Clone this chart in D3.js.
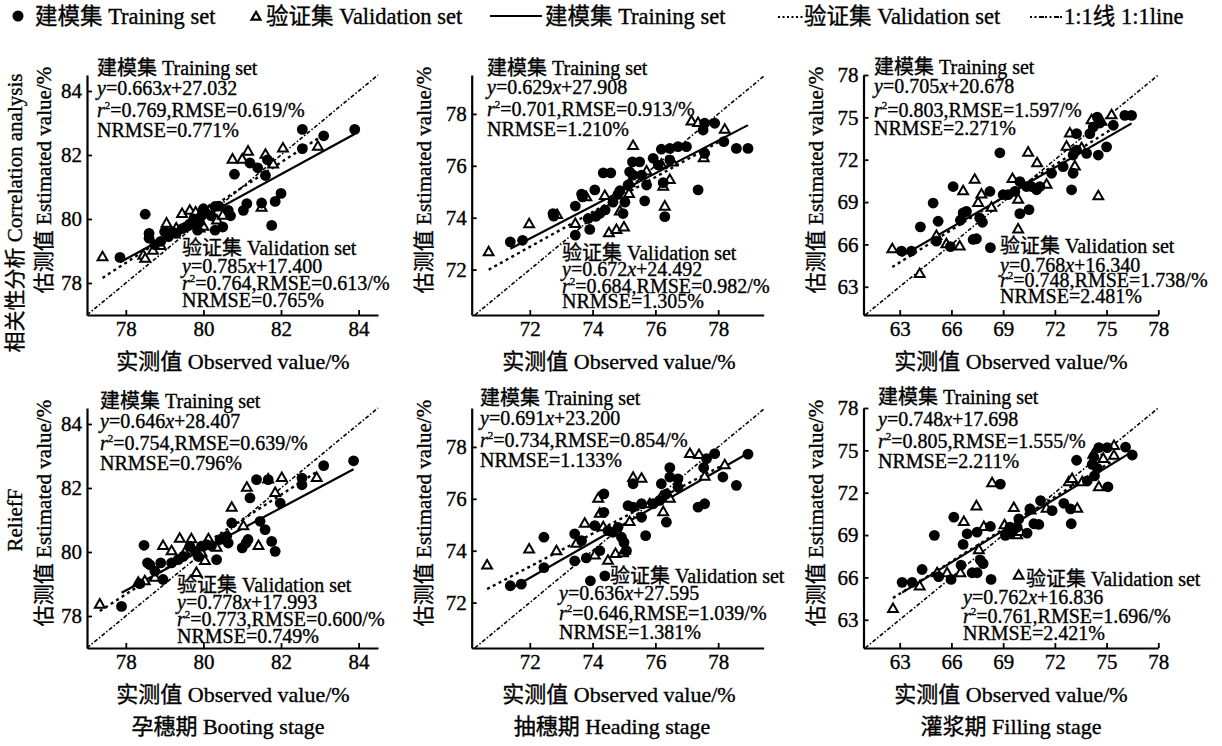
<!DOCTYPE html>
<html>
<head>
<meta charset="utf-8">
<script src="https://cdn.jsdelivr.net/npm/d3@7"></script>
<style>
  body { margin: 0; background: #fff; }
  text { font-family: "Liberation Serif", "Times New Roman", "Noto Sans CJK SC", serif; fill: #000;
         stroke: #000; stroke-width: 0.35px; }
</style>
</head>
<body>
<div id="chart"></div>
<script>
// ---- data ----
// booting stage, correlation analysis
var bootCorrTrain = [[77.85,78.8],[78.5,80.15],[78.6,79.55],[78.6,79.4],[78.75,79.2],[78.9,79.3],[79.0,79.6],[79.1,79.45],[79.2,79.6],[79.3,79.55],[79.45,79.7],[79.55,79.75],[79.65,79.85],[79.75,80.0],[79.85,79.65],[79.9,79.9],[79.95,80.1],[80.0,80.32],[80.05,80.2],[80.2,80.1],[80.3,79.65],[80.3,80.39],[80.4,80.4],[80.5,79.75],[80.64,80.27],[80.7,80.1],[80.8,81.4],[81.03,80.27],[81.12,80.48],[81.2,81.75],[81.4,81.6],[81.5,80.5],[81.6,81.36],[81.65,81.85],[81.76,79.8],[81.85,80.55],[82.0,80.8],[82.55,82.8],[82.55,82.2],[83.1,82.6],[83.9,82.8]];
var bootCorrValid = [[77.4,78.8],[78.45,78.85],[78.5,78.75],[78.7,79.0],[78.9,79.15],[79.05,79.85],[79.3,79.7],[79.45,80.15],[79.65,80.25],[79.7,79.8],[79.8,80.2],[79.9,79.7],[80.0,79.75],[80.15,80.25],[80.35,79.95],[80.5,80.1],[80.75,81.85],[81.0,81.85],[81.15,82.1],[81.5,80.35],[81.6,82.0],[81.8,81.7],[82.05,82.2],[82.95,82.25]];

// heading stage, correlation analysis
var headCorrTrain = [[71.38,73.07],[71.77,73.13],[72.74,74.16],[72.76,74.06],[73.45,74.45],[73.45,73.33],[73.65,74.91],[73.68,74.8],[73.86,73.97],[73.91,73.55],[74.07,75.07],[74.34,75.73],[74.58,75.73],[74.1,74.05],[74.23,74.16],[74.4,74.3],[74.65,74.6],[74.81,74.9],[74.87,75.04],[74.97,74.16],[75.03,74.6],[75.13,75.26],[75.18,75.77],[75.27,76.15],[75.29,75.64],[75.5,76.15],[75.56,75.64],[75.66,74.65],[75.72,75.26],[75.93,76.29],[76.09,76.03],[76.19,76.64],[76.25,75.35],[76.3,74.04],[76.46,76.67],[76.46,76.22],[76.72,76.74],[76.99,76.74],[77.36,75.07],[77.52,77.38],[77.57,77.64],[77.57,76.48],[77.89,77.64],[78.18,76.93],[78.58,76.67],[78.95,76.67]];
var headCorrValid = [[70.69,72.66],[71.98,73.74],[72.87,74.1],[73.45,73.75],[73.8,74.78],[74.39,74.83],[74.52,73.39],[74.76,73.52],[75.0,73.62],[74.87,74.23],[75.16,74.91],[75.18,75.32],[75.29,76.76],[75.72,75.77],[76.19,76.03],[76.25,75.19],[76.3,74.42],[76.46,75.45],[76.54,76.12],[77.15,77.7],[77.36,77.64],[77.54,76.29],[78.21,77.38]];

// filling stage, correlation analysis
var fillCorrTrain = [[63.1,65.53],[63.68,65.53],[64.2,67.24],[64.94,68.93],[65.23,67.64],[65.13,66.23],[65.94,65.84],[66.1,70.1],[66.52,67.71],[66.68,68.23],[66.87,68.34],[67.26,66.35],[67.45,66.4],[67.64,67.87],[67.8,67.57],[68.23,69.75],[68.26,65.77],[68.81,72.49],[69.0,69.52],[69.29,69.52],[69.68,69.75],[69.97,70.45],[69.97,68.18],[70.35,70.1],[70.5,68.46],[70.64,70.1],[70.94,69.87],[71.13,70.1],[71.81,71.04],[72.48,71.51],[72.97,69.87],[73.06,71.04],[73.06,72.33],[73.26,72.68],[73.26,73.85],[73.84,72.45],[74.03,73.85],[74.23,74.32],[74.46,75.02],[74.52,72.33],[74.61,74.6],[75.0,72.91],[75.39,74.44],[76.06,75.14],[76.45,75.14]];
var fillCorrValid = [[62.57,65.65],[64.16,63.89],[65.13,66.59],[65.71,66.0],[66.48,65.84],[66.68,69.75],[67.35,70.57],[67.55,68.93],[67.74,69.52],[68.32,68.58],[69.54,70.62],[69.87,69.16],[69.87,67.05],[70.45,72.49],[70.97,71.74],[71.52,70.22],[72.68,72.91],[72.87,73.85],[73.16,71.51],[73.55,72.8],[74.13,74.79],[74.52,69.4],[74.71,74.67],[75.29,75.14]];

// booting stage, ReliefF
var bootRelTrain = [[77.89,78.3],[78.36,79.01],[78.47,80.21],[78.56,79.66],[78.62,79.6],[78.75,79.4],[78.9,79.66],[78.96,79.14],[79.18,79.66],[79.35,79.76],[79.48,79.86],[79.65,80.18],[79.78,80.02],[79.87,79.86],[79.95,80.18],[80.08,80.23],[80.21,80.2],[80.34,79.76],[80.43,80.39],[80.6,80.49],[80.64,80.28],[80.73,80.91],[81.0,80.13],[81.1,80.28],[81.15,80.39],[81.2,81.69],[81.37,82.26],[81.46,80.96],[81.59,80.7],[81.67,82.26],[81.76,80.33],[81.85,80.02],[81.98,81.53],[82.54,82.31],[82.54,82.1],[83.1,82.7],[83.87,82.85]];
var bootRelValid = [[77.33,78.35],[78.32,79.03],[78.49,79.08],[78.75,79.19],[78.96,80.18],[79.18,80.02],[79.39,80.41],[79.52,79.97],[79.69,80.39],[79.82,79.34],[79.95,79.97],[80.04,79.71],[80.13,80.39],[80.34,80.13],[80.73,81.38],[81.03,80.8],[81.12,82.0],[81.42,80.18],[81.67,82.26],[81.85,81.84],[82.02,82.31],[82.92,82.31]];

// heading stage, ReliefF
var headRelTrain = [[71.38,72.65],[71.73,72.71],[72.45,73.35],[72.45,74.52],[73.43,74.65],[73.43,73.61],[73.65,74.39],[73.8,73.72],[73.93,72.84],[74.07,74.97],[74.23,74.0],[74.36,75.48],[74.36,76.19],[74.39,73.03],[74.49,74.77],[74.65,74.71],[74.81,74.9],[74.92,74.52],[75.0,74.32],[75.08,74.0],[75.13,75.74],[75.29,75.68],[75.29,76.58],[75.56,75.29],[75.56,75.81],[75.69,74.58],[75.93,75.81],[76.14,75.94],[76.19,76.58],[76.35,76.19],[76.35,75.1],[76.46,77.2],[76.46,76.84],[76.72,76.77],[76.72,76.45],[77.36,75.68],[77.54,77.2],[77.57,75.81],[77.63,77.55],[77.89,77.74],[78.15,76.84],[78.58,76.52],[78.95,77.72]];
var headRelValid = [[70.64,73.42],[71.98,74.04],[72.85,73.97],[73.48,74.26],[73.75,75.03],[74.07,73.81],[74.18,76.0],[74.23,75.42],[74.34,74.9],[74.49,73.61],[74.73,73.87],[74.97,73.9],[75.03,74.0],[75.18,75.1],[75.29,76.8],[75.56,76.77],[75.82,75.78],[76.19,76.06],[76.25,75.48],[76.46,76.0],[77.1,77.72],[77.39,77.68],[77.57,76.84],[78.21,77.29]];

// filling stage, ReliefF
var fillRelTrain = [[63.14,65.65],[63.72,65.65],[64.3,66.56],[65.01,68.98],[65.26,66.05],[65.98,65.86],[66.14,70.27],[66.56,66.87],[66.68,68.34],[66.91,69.09],[67.2,66.33],[67.49,66.33],[67.49,69.21],[67.68,67.22],[67.84,66.98],[68.26,69.61],[68.3,65.86],[68.84,72.61],[69.13,68.98],[69.39,69.56],[69.43,69.09],[69.81,69.56],[69.91,70.15],[70.39,69.14],[70.55,70.85],[70.78,69.8],[71.07,69.75],[71.17,71.44],[71.84,70.73],[72.52,71.25],[72.91,70.85],[72.95,69.8],[73.26,74.3],[73.88,72.84],[74.17,74.01],[74.26,74.53],[74.3,73.19],[74.46,73.73],[74.55,75.19],[75.04,75.19],[75.08,72.42],[76.1,75.23],[76.49,74.67]];
var fillRelValid = [[62.61,63.75],[64.16,65.34],[65.17,66.28],[65.75,66.28],[66.52,66.28],[66.72,69.91],[67.45,71.02],[67.59,67.92],[67.88,69.56],[68.36,72.66],[69.08,69.68],[69.62,70.9],[69.81,68.98],[69.9,66.1],[70.0,69.21],[70.59,70.73],[71.52,70.85],[72.81,72.73],[73.0,72.96],[73.3,70.85],[73.59,72.73],[74.23,74.67],[74.55,72.38],[74.81,74.37],[75.43,74.6],[75.43,75.3]];

// fitted models: slope, intercept, r2, RMSE, NRMSE
var trainStats = [
  [0.663, 27.032, 0.769, 0.619, 0.771],
  [0.629, 27.908, 0.701, 0.913, 1.210],
  [0.705, 20.678, 0.803, 1.597, 2.271],
  [0.646, 28.407, 0.754, 0.639, 0.796],
  [0.691, 23.200, 0.734, 0.854, 1.133],
  [0.748, 17.698, 0.805, 1.555, 2.211]
];
var validStats = [
  [0.785, 17.400, 0.764, 0.613, 0.765],
  [0.672, 24.492, 0.684, 0.982, 1.305],
  [0.768, 16.340, 0.748, 1.738, 2.481],
  [0.778, 17.993, 0.773, 0.600, 0.749],
  [0.636, 27.595, 0.646, 1.039, 1.381],
  [0.762, 16.836, 0.761, 1.696, 2.421]
];

// axes per stage
var bootTicks = [78, 80, 82, 84];
var headTicks = [72, 74, 76, 78];
var fillTicks = [63, 66, 69, 72, 75, 78];
var bootDomainX = [77, 84.5], bootDomainY = [77, 84.5];
var headDomainX = [70.15, 79.45], headDomainY = [70.25, 79.5];
var fillDomainX = [60.9, 78], fillDomainY = [61, 78];

var stageLabels = ["孕穗期 Booting stage", "抽穗期 Heading stage", "灌浆期 Filling stage"];
var methodLabels = ["相关性分析 Correlation analysis", "ReliefF"];

// ---- layout ----
var W = 1222, H = 746;
var colLeft = [87, 471.7, 863.5];
var colRight = [378, 763.7, 1158.3];
var rowTop = [75, 408];
var rowBottom = [315, 648];
var yTitleX = [43, 423, 815];
var xTitleX = [233, 619, 1011];

// where the text blocks sit [x, first baseline, line gaps]
var trainText = [
  [97, 75, [20, 21.5, 20]], [487, 75, [18.5, 22.5, 19.5]], [874, 74, [19, 23.5, 18.5]],
  [100, 408, [20, 22, 20]], [480, 405, [20, 22, 20]], [878, 404, [22, 22, 20]]
];
var validText = [
  [182, 255, [18, 17, 16.5], 0], [562, 260, [16, 16.5, 15.5], 0], [1000, 253, [18.5, 15, 16], 0],
  [177, 591.5, [17.5, 17, 16.5], 0], [559, 582.5, [17.5, 20, 19], 51], [963, 586, [18, 19, 17], 63]
];

var fmt = d3.format(".3f");

var svg = d3.select("#chart").append("svg")
    .attr("width", W)
    .attr("height", H);

svg.append("rect").attr("width", W).attr("height", H).attr("fill", "#fff");

var panels = [
  {train: bootCorrTrain, valid: bootCorrValid, dx: bootDomainX, dy: bootDomainY, ticks: bootTicks},
  {train: headCorrTrain, valid: headCorrValid, dx: headDomainX, dy: headDomainY, ticks: headTicks},
  {train: fillCorrTrain, valid: fillCorrValid, dx: fillDomainX, dy: fillDomainY, ticks: fillTicks},
  {train: bootRelTrain, valid: bootRelValid, dx: bootDomainX, dy: bootDomainY, ticks: bootTicks},
  {train: headRelTrain, valid: headRelValid, dx: headDomainX, dy: headDomainY, ticks: headTicks},
  {train: fillRelTrain, valid: fillRelValid, dx: fillDomainX, dy: fillDomainY, ticks: fillTicks}
];

var triangle = d3.symbol().type(d3.symbolTriangle).size(42);

// the four lines of a fit: title, equation, r2/RMSE, NRMSE
function statLines(g, pos, st, title, titleDx) {
  var y = pos[1];
  g.append("text").attr("x", pos[0] + (titleDx || 0)).attr("y", y).style("font-size", "20px").text(title);
  y += pos[2][0];
  var l2 = g.append("text").attr("x", pos[0]).attr("y", y).style("font-size", "20px");
  l2.append("tspan").style("font-style", "italic").text("y");
  l2.append("tspan").text("=" + fmt(st[0]));
  l2.append("tspan").style("font-style", "italic").text("x");
  l2.append("tspan").text("+" + fmt(st[1]));
  y += pos[2][1];
  var l3 = g.append("text").attr("x", pos[0]).attr("y", y).style("font-size", "20px");
  l3.append("tspan").style("font-style", "italic").text("r");
  l3.append("tspan").attr("dy", -8).style("font-size", "11px").text("2");
  l3.append("tspan").attr("dy", 8).text("=" + fmt(st[2]) + ",RMSE=" + fmt(st[3]) + "/%");
  y += pos[2][2];
  g.append("text").attr("x", pos[0]).attr("y", y).style("font-size", "20px")
      .text("NRMSE=" + fmt(st[4]) + "%");
}

panels.forEach(function(p, i) {
  var col = i % 3, row = Math.floor(i / 3);
  var x = d3.scaleLinear().domain(p.dx).range([colLeft[col], colRight[col]]);
  var y = d3.scaleLinear().domain(p.dy).range([rowBottom[row], rowTop[row]]);
  var g = svg.append("g");

  // x-axis
  var gx = g.append("g")
      .attr("transform", "translate(0," + rowBottom[row] + ")")
      .call(d3.axisBottom(x).tickValues(p.ticks).tickSize(-5).tickSizeOuter(0).tickPadding(6).tickFormat(d3.format("d")));
  // y-axis
  var gy = g.append("g")
      .attr("transform", "translate(" + colLeft[col] + ",0)")
      .call(d3.axisLeft(y).tickValues(p.ticks).tickSize(-5).tickSizeOuter(0).tickPadding(5).tickFormat(d3.format("d")));
  [gx, gy].forEach(function(a) {
    a.selectAll("path").attr("stroke", "#000").attr("stroke-width", 2.2);
    a.selectAll("line").attr("stroke", "#000").attr("stroke-width", 1.8);
    a.selectAll("text").style("font-size", "21px").attr("fill", "#000")
      .style("font-family", "'Liberation Serif', serif");
  });

  var line = d3.line().x(function(d) { return x(d[0]); }).y(function(d) { return y(d[1]); });

  // 1:1 line
  var lo = Math.max(p.dx[0], p.dy[0]), hi = Math.min(p.dx[1], p.dy[1]);
  g.append("path").datum([[lo, lo], [hi, hi]]).attr("d", line)
      .attr("fill", "none").attr("stroke", "#000").attr("stroke-width", 1.6)
      .attr("stroke-dasharray", "4,2,1.5,2");

  // regression lines
  function fitLine(data, st) {
    var ext = d3.extent(data, function(d) { return d[0]; });
    return ext.map(function(v) { return [v, st[0] * v + st[1]]; });
  }
  g.append("path").datum(fitLine(p.valid, validStats[i])).attr("d", line)
      .attr("fill", "none").attr("stroke", "#000").attr("stroke-width", 2.4)
      .attr("stroke-dasharray", "3,3.5");
  g.append("path").datum(fitLine(p.train, trainStats[i])).attr("d", line)
      .attr("fill", "none").attr("stroke", "#000").attr("stroke-width", 2.2);

  // points
  g.selectAll(".tri").data(p.valid).enter().append("path")
      .attr("d", triangle)
      .attr("transform", function(d) { return "translate(" + x(d[0]) + "," + y(d[1]) + ")"; })
      .attr("fill", "#fff").attr("stroke", "#000").attr("stroke-width", 2);
  g.selectAll(".dot").data(p.train).enter().append("circle")
      .attr("cx", function(d) { return x(d[0]); })
      .attr("cy", function(d) { return y(d[1]); })
      .attr("r", 5.4).attr("fill", "#000");

  // annotations
  statLines(g, trainText[i], trainStats[i], "建模集 Training set", 0);
  statLines(g, validText[i], validStats[i], "验证集 Validation set", validText[i][3]);

  // axis titles
  g.append("text")
      .attr("x", xTitleX[col]).attr("y", rowBottom[row] + 54)
      .attr("text-anchor", "middle").style("font-size", "22px")
      .text("实测值 Observed value/%");
  g.append("text")
      .attr("transform", "translate(" + (yTitleX[col] + 7.5) + "," + (rowTop[row] + 105) + ") rotate(-90)")
      .attr("text-anchor", "middle").style("font-size", "21px")
      .text("估测值 Estimated value/%");
});

// method labels on the far left
svg.append("text")
    .attr("transform", "translate(22,213) rotate(-90)")
    .attr("text-anchor", "middle").style("font-size", "21px")
    .text(methodLabels[0]);
svg.append("text")
    .attr("transform", "translate(22,520) rotate(-90)")
    .attr("text-anchor", "middle").style("font-size", "21px")
    .text(methodLabels[1]);

// stage labels at the bottom
stageLabels.forEach(function(s, i) {
  svg.append("text")
      .attr("x", [228, 612, 1011][i]).attr("y", 734)
      .attr("text-anchor", "middle").style("font-size", "22px")
      .text(s);
});

// legend
var lg = svg.append("g").style("font-size", "22.5px");
lg.append("circle").attr("cx", 18).attr("cy", 16).attr("r", 5.5).attr("fill", "#000");
lg.append("text").attr("x", 35).attr("y", 23.5).text("建模集 Training set");
lg.append("path").attr("d", d3.symbol().type(d3.symbolTriangle).size(34))
    .attr("transform", "translate(256,17)")
    .attr("fill", "#fff").attr("stroke", "#000").attr("stroke-width", 2.2);
lg.append("text").attr("x", 266).attr("y", 23.5).text("验证集 Validation set");
lg.append("line").attr("x1", 490).attr("x2", 542).attr("y1", 16).attr("y2", 16)
    .attr("stroke", "#000").attr("stroke-width", 2.2);
lg.append("text").attr("x", 545).attr("y", 23.5).text("建模集 Training set");
lg.append("line").attr("x1", 778).attr("x2", 804).attr("y1", 17).attr("y2", 17)
    .attr("stroke", "#000").attr("stroke-width", 2).attr("stroke-dasharray", "2,2.5");
lg.append("text").attr("x", 804).attr("y", 23.5).text("验证集 Validation set");
lg.append("line").attr("x1", 1030).attr("x2", 1064).attr("y1", 17).attr("y2", 17)
    .attr("stroke", "#000").attr("stroke-width", 2).attr("stroke-dasharray", "2,2.5,2,2.5,5,1");
lg.append("text").attr("x", 1064).attr("y", 23.5).text("1:1线 1:1line");
</script>
</body>
</html>
